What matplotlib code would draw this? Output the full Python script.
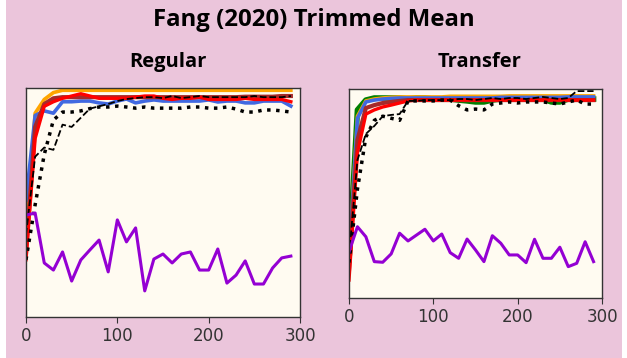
"""Fang (2020) Trimmed Mean: regular vs transfer accuracy curves."""

import matplotlib
matplotlib.use("Agg")
import matplotlib.pyplot as plt
from matplotlib.patches import Rectangle

# ---------------------------------------------------------------------------
# Data
# ---------------------------------------------------------------------------
rounds = list(range(0, 300, 10))

# Regular panel
reg_orange = [0.34, 0.89, 0.95, 0.98] + [0.99] * 26
reg_blue = [0.51, 0.88, 0.90, 0.89, 0.94, 0.94, 0.943, 0.943, 0.935, 0.93,
            0.943, 0.952, 0.935, 0.943, 0.948, 0.943, 0.943, 0.943, 0.943, 0.943,
            0.948, 0.939, 0.943, 0.943, 0.935, 0.935, 0.943, 0.943, 0.943, 0.921]
reg_red = [0.25, 0.78, 0.92, 0.94, 0.955, 0.965, 0.975, 0.965, 0.955, 0.955,
           0.955, 0.955, 0.96, 0.965, 0.965, 0.955, 0.95, 0.955, 0.955, 0.96,
           0.95, 0.95, 0.95, 0.95, 0.955, 0.95, 0.95, 0.95, 0.95, 0.94]
reg_brown = [0.28, 0.83, 0.93, 0.955, 0.96, 0.96, 0.96, 0.96, 0.96, 0.96,
             0.96, 0.96, 0.96, 0.96, 0.96, 0.96, 0.96, 0.96, 0.96, 0.96,
             0.96, 0.96, 0.96, 0.96, 0.962, 0.962, 0.962, 0.962, 0.965, 0.965]
reg_dashed = [0.36, 0.70, 0.74, 0.73, 0.84, 0.83, 0.87, 0.91, 0.92, 0.93,
              0.943, 0.952, 0.956, 0.96, 0.96, 0.956, 0.965, 0.956, 0.96, 0.965,
              0.96, 0.96, 0.96, 0.96, 0.96, 0.965, 0.96, 0.96, 0.96, 0.965]
reg_dotted = [0.25, 0.49, 0.71, 0.86, 0.895, 0.895, 0.90, 0.91, 0.917, 0.917,
              0.921, 0.917, 0.912, 0.917, 0.912, 0.912, 0.912, 0.912, 0.917, 0.917,
              0.912, 0.912, 0.917, 0.908, 0.895, 0.895, 0.904, 0.904, 0.90, 0.895]
reg_purple = [0.445, 0.454, 0.236, 0.205, 0.284, 0.157, 0.249, 0.293, 0.336, 0.197,
              0.424, 0.328, 0.389, 0.114, 0.253, 0.275, 0.236, 0.275, 0.284, 0.205,
              0.205, 0.297, 0.148, 0.183, 0.245, 0.144, 0.144, 0.214, 0.258, 0.266]

# Transfer panel
tr_green = [0.18, 0.90, 0.947, 0.957, 0.957, 0.957, 0.957, 0.952, 0.957, 0.957,
            0.952, 0.952, 0.952, 0.947, 0.943, 0.938, 0.938, 0.947, 0.952, 0.952,
            0.952, 0.952, 0.952, 0.952, 0.938, 0.938, 0.952, 0.952, 0.952, 0.952]
tr_orange = [0.17, 0.87, 0.943, 0.952, 0.957, 0.96, 0.962, 0.962, 0.962, 0.962,
             0.962, 0.962, 0.965, 0.965, 0.965, 0.965, 0.965, 0.965, 0.965, 0.967,
             0.967, 0.967, 0.967, 0.967, 0.967, 0.967, 0.967, 0.967, 0.967, 0.967]
tr_blue = [0.17, 0.86, 0.938, 0.947, 0.952, 0.955, 0.957, 0.957, 0.957, 0.957,
           0.957, 0.957, 0.957, 0.957, 0.957, 0.957, 0.957, 0.957, 0.96, 0.96,
           0.96, 0.96, 0.96, 0.96, 0.96, 0.96, 0.962, 0.962, 0.962, 0.962]
tr_brown = [0.134, 0.756, 0.909, 0.923, 0.933, 0.938, 0.943, 0.947, 0.947, 0.947,
            0.947, 0.947, 0.947, 0.947, 0.947, 0.947, 0.947, 0.947, 0.947, 0.947,
            0.947, 0.947, 0.947, 0.947, 0.947, 0.947, 0.947, 0.947, 0.947, 0.947]
tr_red = [0.086, 0.694, 0.880, 0.900, 0.914, 0.923, 0.933, 0.943, 0.947, 0.947,
          0.947, 0.947, 0.947, 0.947, 0.947, 0.947, 0.947, 0.947, 0.947, 0.947,
          0.947, 0.947, 0.947, 0.947, 0.947, 0.947, 0.947, 0.947, 0.947, 0.947]
tr_dashed = [0.20, 0.66, 0.785, 0.823, 0.87, 0.876, 0.88, 0.943, 0.943, 0.947,
             0.947, 0.947, 0.947, 0.952, 0.952, 0.947, 0.952, 0.957, 0.952, 0.957,
             0.957, 0.952, 0.957, 0.962, 0.957, 0.952, 0.957, 0.99, 0.99, 0.99]
tr_dotted = [0.17, 0.52, 0.77, 0.85, 0.87, 0.86, 0.85, 0.943, 0.943, 0.943,
             0.943, 0.947, 0.947, 0.92, 0.90, 0.904, 0.90, 0.928, 0.933, 0.938,
             0.933, 0.938, 0.938, 0.938, 0.933, 0.928, 0.938, 0.947, 0.928, 0.928]
tr_purple = [0.22, 0.341, 0.293, 0.174, 0.171, 0.211, 0.310, 0.273, 0.301, 0.329,
             0.273, 0.306, 0.217, 0.190, 0.282, 0.230, 0.174, 0.298, 0.262, 0.206,
             0.206, 0.169, 0.281, 0.190, 0.190, 0.243, 0.150, 0.166, 0.269, 0.174]

x_ticks = [0, 100, 200, 300]

PINK = "#ebc5db"
PANEL = "#fffbf1"
TITLE_FONT = ["Open Sans", "DejaVu Sans"]


def draw_panel(ax, series):
    for y, color, lw, ls in series:
        ax.plot(rounds, y, color=color, linewidth=lw, linestyle=ls)
    ax.set_facecolor(PANEL)
    ax.set_xlim(0, 300)
    ax.set_ylim(0, 1.0)
    ax.set_xticks(x_ticks)
    ax.set_yticks([])
    ax.tick_params(axis="x", labelsize=12, colors="#333333", length=4)
    for sp in ax.spines.values():
        sp.set_color("#333333")
        sp.set_linewidth(1)


W, H = 627, 358
fig = plt.figure(figsize=(W / 100, H / 100), dpi=100)
fig.patch.set_facecolor("white")
fig.patches.append(Rectangle((6 / W, 0), 616 / W, 1, transform=fig.transFigure,
                             facecolor=PINK, edgecolor="none", zorder=-10))

ax1 = fig.add_axes([26 / W, 1 - 317 / H, 274 / W, 229 / H])
ax2 = fig.add_axes([349 / W, 1 - 298 / H, 253 / W, 209 / H])

dots = (0, (1, 1.6))
draw_panel(ax1, [
    (reg_orange, "orange", 2.6, "-"),
    (reg_blue, "royalblue", 2.6, "-"),
    (reg_brown, "brown", 3.0, "-"),
    (reg_red, "red", 2.4, "-"),
    (reg_dashed, "black", 1.3, "--"),
    (reg_dotted, "black", 2.5, dots),
    (reg_purple, "darkviolet", 2.2, "-"),
])
draw_panel(ax2, [
    (tr_green, "green", 4.0, "-"),
    (tr_orange, "orange", 2.6, "-"),
    (tr_blue, "royalblue", 2.6, "-"),
    (tr_brown, "brown", 3.0, "-"),
    (tr_red, "red", 2.4, "-"),
    (tr_dashed, "black", 1.3, "--"),
    (tr_dotted, "black", 2.5, dots),
    (tr_purple, "darkviolet", 2.2, "-"),
])

fig.text(168 / W, 1 - 62 / H, "Regular", ha="center", va="center",
         fontsize=14.5, fontweight="bold", family=TITLE_FONT)
fig.text(480 / W, 1 - 62 / H, "Transfer", ha="center", va="center",
         fontsize=14.5, fontweight="bold", family=TITLE_FONT)
fig.text(0.5, 1 - 20 / H, "Fang (2020) Trimmed Mean", ha="center", va="center",
         fontsize=17.3, fontweight="bold", family=TITLE_FONT)

fig.savefig("out.png", dpi=100, facecolor=fig.get_facecolor())
